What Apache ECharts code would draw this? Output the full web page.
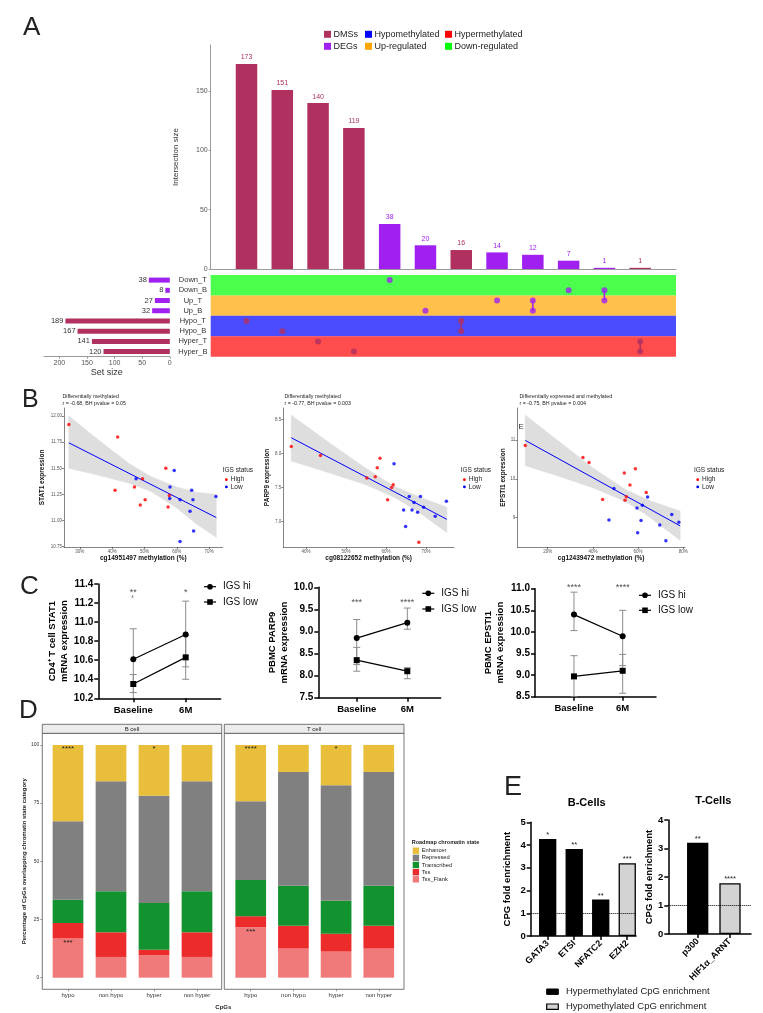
<!DOCTYPE html>
<html>
<head>
<meta charset="utf-8">
<title>Figure</title>
<script src="https://cdn.jsdelivr.net/npm/echarts@6/dist/echarts.min.js"></script>
<style>
html,body{margin:0;padding:0;background:#ffffff;}
#chart{width:763px;height:1013px;}
</style>
</head>
<body>
<div id="chart"></div>
<script>
// ================= DATA =================
// Panel A (UpSet)
const intersectionSets = [['Hypo_T'],['Hypo_B'],['Hyper_T'],['Hyper_B'],['Down_T'],['Up_B'],['Hypo_T','Hypo_B'],['Up_T'],['Up_T','Up_B'],['Down_B'],['Down_B','Up_T'],['Hyper_T','Hyper_B']];
const intersectionSizes = [173,151,140,119,38,20,16,14,12,7,1,1];
const intersectionKinds = ['DMS','DMS','DMS','DMS','DEG','DEG','DMS','DEG','DEG','DEG','DEG','DMS'];
const setNames = ['Down_T','Down_B','Up_T','Up_B','Hypo_T','Hypo_B','Hyper_T','Hyper_B'];
const setSizes = [38,8,27,32,189,167,141,120];
const setKinds = ['DEG','DEG','DEG','DEG','DMS','DMS','DMS','DMS'];
const upsetLegendRow1 = ['DMSs','Hypomethylated','Hypermethylated'];
const upsetLegendRow2 = ['DEGs','Up-regulated','Down-regulated'];
const intersectionTicks = [0,50,100,150];
const setSizeTicks = [0,50,100,150,200];

// Panel B (scatter, [methylation %, expression])
const stat1High = [[26.6,11.92],[41.7,11.80],[40.9,11.29],[46.9,11.32],[49.4,11.40],[48.7,11.15],[50.2,11.20],[56.6,11.50],[57.7,11.24],[57.3,11.13]];
const stat1Low = [[47.4,11.40],[59.2,11.48],[57.9,11.32],[57.8,11.21],[61.0,11.20],[64.6,11.29],[65.0,11.20],[64.1,11.09],[65.2,10.90],[61.0,10.80],[72.1,11.23]];
const stat1Fit = [[26.6,11.744],[72.2,11.029]];
const stat1Band = [[26.6,11.50,12.00],[35,11.44,11.79],[45,11.36,11.55],[52,11.28,11.42],[60,11.12,11.32],[66,10.97,11.27],[72.2,10.84,11.25]];
const parp9High = [[36.3,8.10],[43.6,7.97],[55.2,7.64],[57.3,7.66],[57.8,7.79],[58.5,7.93],[60.4,7.32],[61.4,7.50],[61.8,7.54],[68.2,6.70]];
const parp9Low = [[62.0,7.85],[65.8,7.37],[68.6,7.37],[67.0,7.28],[64.4,7.17],[66.5,7.17],[67.9,7.14],[69.4,7.21],[64.9,6.93],[72.3,7.08],[75.1,7.30]];
const parp9Fit = [[36.3,8.23],[75.2,7.035]];
const parp9Band = [[36.3,7.89,8.56],[45,7.73,8.19],[55,7.54,7.78],[62,7.36,7.52],[68,7.15,7.37],[75.2,6.84,7.21]];
const epsti1High = [[10.1,10.86],[35.6,10.55],[38.3,10.42],[44.3,9.47],[53.9,10.15],[58.8,10.26],[56.4,9.84],[54.8,9.54],[54.2,9.45],[63.6,9.65]];
const epsti1Low = [[49.3,9.75],[64.2,9.53],[61.9,9.32],[59.5,9.25],[47.1,8.94],[61.3,8.93],[59.8,8.61],[69.6,8.81],[74.9,9.08],[78.0,8.88],[72.3,8.41]];
const epsti1Fit = [[10.1,10.99],[78.6,8.79]];
const epsti1Band = [[10.1,10.34,11.64],[25,10.07,10.96],[40,9.77,10.28],[54.5,9.42,9.72],[65,9.02,9.44],[78.6,8.42,9.17]];
const stat1XTicks = [30,40,50,60,70];
const stat1YTicks = [10.75,11.00,11.25,11.50,11.75,12.00];
const parp9XTicks = [40,50,60,70];
const parp9YTicks = [7.0,7.5,8.0,8.5];
const epsti1XTicks = [20,40,60,80];
const epsti1YTicks = [9,10,11];

// Panel C (mean expression over time)
const timepoints = ['Baseline','6M'];
const stat1Hi = [10.61,10.87];
const stat1Lo = [10.35,10.63];
const stat1HiErr = [[10.26,10.93],[10.53,11.22]];
const stat1LoErr = [[10.10,10.45],[10.40,10.86]];
const stat1Sig = ['**','*'];
const parp9Hi = [8.85,9.20];
const parp9Lo = [8.35,8.10];
const parp9HiErr = [[8.25,9.27],[9.05,9.53]];
const parp9LoErr = [[8.10,8.64],[7.93,8.18]];
const parp9Sig = ['***','****'];
const epsti1Hi = [10.40,9.90];
const epsti1Lo = [8.97,9.10];
const epsti1HiErr = [[10.03,10.92],[9.22,10.50]];
const epsti1LoErr = [[8.50,9.45],[8.58,9.48]];
const epsti1Sig = ['****','****'];
const stat1CTicks = [10.2,10.4,10.6,10.8,11.0,11.2,11.4];
const parp9CTicks = [7.5,8.0,8.5,9.0,9.5,10.0];
const epsti1CTicks = [8.5,9.0,9.5,10.0,10.5,11.0];

// Panel D (chromatin state %, order: hypo, non hypo, hyper, non hyper)
const cpgGroups = ['hypo','non hypo','hyper','non hyper'];
const chromStates = ['Enhancer','Repressed','Transcribed','Tss','Tss_Flank'];
const bTssFlank = [16.9,8.9,9.7,8.9];
const bTss = [6.6,10.6,2.3,10.6];
const bTranscribed = [10.0,17.6,20.1,17.6];
const bRepressed = [33.7,47.3,46.1,47.3];
const bEnhancer = [32.8,15.6,21.8,15.6];
const tTssFlank = [21.6,12.5,11.2,12.5];
const tTss = [4.8,9.8,7.7,9.8];
const tTranscribed = [15.6,17.2,14.2,17.2];
const tRepressed = [33.8,48.9,49.6,48.9];
const tEnhancer = [24.2,11.6,17.3,11.6];
const bTopSig = ['****','','*',''];
const bFlankSig = ['***','','',''];
const tTopSig = ['****','','*',''];
const tFlankSig = ['***','','',''];
const pctTicks = [0,25,50,75,100];

// Panel E (fold enrichment)
const eBNames = ['GATA3','ETSI','NFATC2','EZH2'];
const eBValues = [4.27,3.83,1.60,3.20];
const eBKinds = ['hyper','hyper','hyper','hypo'];
const eBSig = ['*','**','**','***'];
const eTNames = ['p300','HIF1α_ARNT'];
const eTValues = [3.20,1.78];
const eTKinds = ['hyper','hypo'];
const eTSig = ['**','****'];
const eLegend = ['Hypermethylated CpG enrichment','Hypomethylated CpG enrichment'];

// ================= STYLE / BUILD =================
const FONT = '"Liberation Sans", Arial, Helvetica, sans-serif';
const KC = {DMS:'#B03060', DEG:'#A020F0'};
const bandColor = {Down:'#00FF00', Up:'#FFA500', Hypo:'#0000FF', Hyper:'#FF0000'};
const legendColor = {'DMSs':'#B03060','DEGs':'#A020F0','Hypomethylated':'#0000FF','Hypermethylated':'#FF0000','Up-regulated':'#FFA500','Down-regulated':'#00FF00'};
const chromColor = {Enhancer:'#E8BE3A', Repressed:'#808080', Transcribed:'#139230', Tss:'#EC2B2B', Tss_Flank:'#F07A7A'};
const eFill = {hyper:'#000000', hypo:'#D3D3D3'};

const grid=[], xAxis=[], yAxis=[], series=[], graphic=[];
function addGrid(box){ grid.push(Object.assign({outerBoundsMode:'none', containLabel:false}, box)); return grid.length-1; }
function txt(text, x, y, o){
  o = o || {};
  graphic.push({type:'text', x:x, y:y, rotation:o.rot||0, silent:true, z:100,
    style:{text:text, fill:o.color||'#222', fontSize:o.size||8, fontWeight:o.weight||'normal', fontFamily:o.family||FONT,
      align:o.align||'left', verticalAlign:o.valign||'middle', textAlign:o.align||'left', textVerticalAlign:o.valign||'middle'}});
}
function rect(x,y,w,h,fill,stroke,lw){ graphic.push({type:'rect', silent:true, z:100, shape:{x:x,y:y,width:w,height:h}, style:{fill:fill, stroke:stroke||null, lineWidth:lw||0}}); }
function gline(x1,y1,x2,y2,stroke,lw){ graphic.push({type:'line', silent:true, z:100, shape:{x1:x1,y1:y1,x2:x2,y2:y2}, style:{stroke:stroke, lineWidth:lw}}); }
function gcircle(cx,cy,r,fill){ graphic.push({type:'circle', silent:true, z:101, shape:{cx:cx,cy:cy,r:r}, style:{fill:fill}}); }
function aline(color, width, show){ return {show: show!==false, onZero:false, lineStyle:{color:color, width:width}}; }

// Panel letters
txt('A', 23, 28, {size:26});
txt('B', 22, 400, {size:25});
txt('C', 20, 587, {size:26});
txt('D', 19, 711, {size:26});
txt('E', 504, 788, {size:27});

// ---------- Panel A ----------
const nInter = intersectionSizes.length;
const gA = addGrid({left:210.7, top:45, width:465.3, height:224});
xAxis.push({gridIndex:gA, type:'value', min:0, max:nInter+1, axisLine:aline('#9a9a9a',1), axisTick:{show:false}, axisLabel:{show:false}, splitLine:{show:false}});
yAxis.push({gridIndex:gA, type:'value', min:0, max:189, axisLine:aline('#9a9a9a',1),
  axisTick:{show:true,length:2,customValues:intersectionTicks,lineStyle:{color:'#9a9a9a'}},
  axisLabel:{customValues:intersectionTicks, fontSize:7, color:'#555', margin:3, fontFamily:FONT}, splitLine:{show:false},
  name:'Intersection size', nameLocation:'middle', nameRotate:90, nameGap:31, nameTextStyle:{fontSize:8, color:'#333', fontFamily:FONT}});
series.push({type:'bar', xAxisIndex:gA, yAxisIndex:gA, barWidth:21.5,
  data:intersectionSizes.map((v,i)=>({value:[i+1,v], itemStyle:{color:KC[intersectionKinds[i]]}, label:{color:KC[intersectionKinds[i]]}})),
  label:{show:true, position:'top', distance:3, fontSize:7, fontFamily:FONT}});

const gM = addGrid({left:210.7, top:275, width:465.3, height:81.7});
xAxis.push({gridIndex:gM, type:'value', min:0, max:nInter+1, show:false});
yAxis.push({gridIndex:gM, type:'value', min:0, max:setNames.length, inverse:true, show:false});
const bands=[];
setNames.forEach((s,i)=>{const g=s.split('_')[0]; const last=bands[bands.length-1]; if(last && last.g===g) last.end=i+1; else bands.push({g:g,start:i,end:i+1});});
series.push({type:'custom', xAxisIndex:gM, yAxisIndex:gM, z:1, silent:true, data:bands.map(b=>[b.start+0.5,b.end]),
  renderItem:(params,api)=>{const cs=params.coordSys; const b=bands[params.dataIndex];
    const y0=api.coord([0,b.start])[1], y1=api.coord([0,b.end])[1];
    return {type:'rect', shape:{x:cs.x,y:Math.min(y0,y1),width:cs.width,height:Math.abs(y1-y0)}, style:{fill:bandColor[b.g], opacity:0.7}};}});
const dotData=[];
intersectionSets.forEach((sets,i)=>sets.forEach(s=>dotData.push({value:[i+1, setNames.indexOf(s)+0.5], itemStyle:{color:KC[intersectionKinds[i]]}})));
series.push({type:'scatter', xAxisIndex:gM, yAxisIndex:gM, z:4, symbolSize:6, data:dotData});
intersectionSets.forEach((sets,i)=>{ if(sets.length>1) series.push({type:'line', xAxisIndex:gM, yAxisIndex:gM, z:3, symbol:'none',
  lineStyle:{color:KC[intersectionKinds[i]], width:1.5}, data:sets.map(s=>[i+1, setNames.indexOf(s)+0.5])}); });

const gS = addGrid({left:43.9, top:275, width:125.9, height:81.7});
xAxis.push({gridIndex:gS, type:'value', min:0, max:228, inverse:true, axisLine:aline('#9a9a9a',1),
  axisTick:{show:true,length:2,customValues:setSizeTicks,lineStyle:{color:'#9a9a9a'}},
  axisLabel:{customValues:setSizeTicks, fontSize:7, color:'#555', margin:3, fontFamily:FONT}, splitLine:{show:false},
  name:'Set size', nameLocation:'middle', nameGap:10, nameTextStyle:{fontSize:9, color:'#333', fontFamily:FONT}});
yAxis.push({gridIndex:gS, type:'category', data:setNames, inverse:true, position:'right', axisLine:{show:false, onZero:false}, axisTick:{show:false},
  axisLabel:{interval:0, fontSize:7.5, color:'#333', align:'center', margin:23, fontFamily:FONT}});
series.push({type:'bar', xAxisIndex:gS, yAxisIndex:gS, barWidth:5,
  data:setSizes.map((v,i)=>({value:v, itemStyle:{color:KC[setKinds[i]]}})),
  label:{show:true, position:'left', distance:2, fontSize:7.5, color:'#333', fontFamily:FONT}});

// UpSet legend
const legXs = [324, 365, 445];
[upsetLegendRow1, upsetLegendRow2].forEach((row,r)=>{
  const y = r===0 ? 34.3 : 46.3;
  row.forEach((name,k)=>{ rect(legXs[k], y-3.5, 7, 7, legendColor[name]); txt(name, legXs[k]+9.5, y, {size:9, color:'#222'}); });
});

// ---------- Panel B ----------
function scatterPanel(p){
  const gi = addGrid({left:p.left, top:408, width:p.width, height:139});
  xAxis.push({gridIndex:gi, type:'value', min:p.xRange[0], max:p.xRange[1], axisLine:aline('#333',0.6), splitLine:{show:false},
    axisTick:{show:true, length:2, customValues:p.xTicks, lineStyle:{color:'#333', width:0.6}},
    axisLabel:{customValues:p.xTicks, formatter:v=>v+'%', fontSize:4.5, color:'#555', margin:2, fontFamily:FONT},
    name:p.xName, nameLocation:'middle', nameGap:8, nameTextStyle:{fontSize:6.5, fontWeight:'bold', color:'#111', fontFamily:FONT}});
  yAxis.push({gridIndex:gi, type:'value', min:p.yRange[0], max:p.yRange[1], axisLine:aline('#333',0.6), splitLine:{show:false},
    axisTick:{show:true, length:2, customValues:p.yTicks, lineStyle:{color:'#333', width:0.6}},
    axisLabel:{customValues:p.yTicks, formatter:p.yFmt, fontSize:4.5, color:'#555', margin:2, fontFamily:FONT},
    name:p.yName, nameLocation:'middle', nameRotate:90, nameGap:p.yGap, nameTextStyle:{fontSize:6.5, fontWeight:'bold', color:'#111', fontFamily:FONT}});
  const band = p.band;
  series.push({type:'custom', xAxisIndex:gi, yAxisIndex:gi, z:1, silent:true, data:band.slice(0,-1), encode:{x:0,y:1},
    renderItem:(params,api)=>{const a=band[params.dataIndex], b=band[params.dataIndex+1];
      const pts=[api.coord([a[0],a[1]]),api.coord([a[0],a[2]]),api.coord([b[0],b[2]]),api.coord([b[0],b[1]])];
      return {type:'polygon', shape:{points:pts}, style:{fill:'#dedede', stroke:'#dedede', lineWidth:0.6}};}});
  series.push({type:'line', xAxisIndex:gi, yAxisIndex:gi, z:2, symbol:'none', data:p.fit, lineStyle:{color:'#0000FF', width:1}});
  series.push({type:'scatter', xAxisIndex:gi, yAxisIndex:gi, z:3, symbolSize:3.5, itemStyle:{color:'#FF0000'}, data:p.high});
  series.push({type:'scatter', xAxisIndex:gi, yAxisIndex:gi, z:3, symbolSize:3.5, itemStyle:{color:'#0000FF'}, data:p.low});
  txt(p.title1, p.tx, 396.7, {size:5.3, color:'#222'});
  txt(p.title2, p.tx, 404, {size:5.3, color:'#222'});
  txt('IGS status', p.lx, 470, {size:6.5, color:'#222'});
  gcircle(p.lx+3.7, 479.7, 1.4, '#FF0000'); txt('High', p.lx+8, 479.7, {size:6.5, color:'#222'});
  gcircle(p.lx+3.7, 486.9, 1.4, '#0000FF'); txt('Low', p.lx+8, 486.9, {size:6.5, color:'#222'});
}
scatterPanel({left:64, width:158.7, xRange:[25.1,74.2], yRange:[10.747,12.077], xTicks:stat1XTicks, yTicks:stat1YTicks, yFmt:v=>v.toFixed(2),
  xName:'cg14951497 methylation (%)', yName:'STAT1 expression', yGap:18.5, band:stat1Band, fit:stat1Fit, high:stat1High, low:stat1Low,
  title1:'Differentially methylated', title2:'r = -0.68, BH pvalue = 0.05', tx:62.4, lx:222.7});
scatterPanel({left:283.3, width:170.7, xRange:[34.3,77.0], yRange:[6.629,8.666], xTicks:parp9XTicks, yTicks:parp9YTicks, yFmt:v=>v.toFixed(1),
  xName:'cg08122652 methylation (%)', yName:'PARP9 expression', yGap:10.5, band:parp9Band, fit:parp9Fit, high:parp9High, low:parp9Low,
  title1:'Differentially methylated', title2:'r = -0.77, BH pvalue = 0.003', tx:284.4, lx:460.7});
scatterPanel({left:517.3, width:167.7, xRange:[6.55,80.75], yRange:[8.246,11.824], xTicks:epsti1XTicks, yTicks:epsti1YTicks, yFmt:v=>String(v),
  xName:'cg12439472 methylation (%)', yName:'EPSTI1 expression', yGap:6.8, band:epsti1Band, fit:epsti1Fit, high:epsti1High, low:epsti1Low,
  title1:'Differentially expressed and methylated', title2:'r = -0.75, BH pvalue = 0.004', tx:519.5, lx:694});
txt('E', 518.5, 426.5, {size:8, color:'#333'});

// ---------- Panel C ----------
function errRender(params, api){
  const x=api.value(0), lo=api.value(1), hi=api.value(2);
  const a=api.coord([x,hi]), b=api.coord([x,lo]); const w=3.5;
  const st={stroke:'#8c8c8c', lineWidth:1};
  return {type:'group', children:[
    {type:'line', shape:{x1:a[0],y1:a[1],x2:b[0],y2:b[1]}, style:st},
    {type:'line', shape:{x1:a[0]-w,y1:a[1],x2:a[0]+w,y2:a[1]}, style:st},
    {type:'line', shape:{x1:b[0]-w,y1:b[1],x2:b[0]+w,y2:b[1]}, style:st}]};
}
function prismPanel(p){
  const gi = addGrid({left:p.left, top:p.top, width:p.width, height:p.height});
  xAxis.push({gridIndex:gi, type:'value', min:p.xRange[0], max:p.xRange[1], axisLine:aline('#000',1.5), splitLine:{show:false},
    axisTick:{show:true, length:4, customValues:[0,1], lineStyle:{color:'#000', width:1.5}},
    axisLabel:{customValues:[0,1], formatter:v=>timepoints[v], fontSize:9.5, fontWeight:'bold', color:'#000', margin:7, fontFamily:FONT}});
  yAxis.push({gridIndex:gi, type:'value', min:p.yRange[0], max:p.yRange[1], axisLine:aline('#000',1.5), splitLine:{show:false},
    axisTick:{show:true, length:4, customValues:p.yTicks, lineStyle:{color:'#000', width:1.5}},
    axisLabel:{customValues:p.yTicks, formatter:v=>v.toFixed(1), fontSize:10, fontWeight:'bold', color:'#000', margin:5, fontFamily:FONT},
    name:p.yName, nameLocation:'middle', nameRotate:90, nameGap:p.yGap,
    nameTextStyle:{fontSize:9.5, fontWeight:'bold', color:'#000', fontFamily:FONT, lineHeight:12}});
  [p.hiErr, p.loErr].forEach(err=>series.push({type:'custom', xAxisIndex:gi, yAxisIndex:gi, z:1, silent:true, clip:true,
    data:err.map((e,i)=>[i,e[0],e[1]]), encode:{x:0,y:[1,2]}, renderItem:errRender}));
  series.push({type:'line', xAxisIndex:gi, yAxisIndex:gi, z:3, symbol:'circle', symbolSize:6, data:p.hi.map((v,i)=>[i,v]),
    itemStyle:{color:'#000'}, lineStyle:{color:'#000', width:1.2}});
  series.push({type:'line', xAxisIndex:gi, yAxisIndex:gi, z:3, symbol:'rect', symbolSize:6, data:p.lo.map((v,i)=>[i,v]),
    itemStyle:{color:'#000'}, lineStyle:{color:'#000', width:1.2}});
  series.push({type:'scatter', xAxisIndex:gi, yAxisIndex:gi, z:4, symbolSize:0, silent:true, clip:false,
    data:p.sig.map((s,i)=>({value:[i,p.yRange[1]], label:{formatter:s}})),
    label:{show:true, position:'inside', offset:[0,p.sigDy], fontSize:9, color:'#222', fontFamily:FONT}});
  // legend
  gline(p.legX-6, p.legY, p.legX+6, p.legY, '#000', 1.2); gcircle(p.legX, p.legY, 2.8, '#000');
  txt('IGS hi', p.legX+13, p.legY, {size:10, color:'#111'});
  gline(p.legX-6, p.legY+p.legDy, p.legX+6, p.legY+p.legDy, '#000', 1.2); rect(p.legX-2.8, p.legY+p.legDy-2.8, 5.6, 5.6, '#000');
  txt('IGS low', p.legX+13, p.legY+p.legDy, {size:10, color:'#111'});
}
prismPanel({left:98.3, top:584, width:122.4, height:114.3, xRange:[-0.668,1.668], yRange:[10.2,11.4], yTicks:stat1CTicks,
  yName:'CD4\u207A T cell STAT1\nmRNA expression', yGap:27, hi:stat1Hi, lo:stat1Lo, hiErr:stat1HiErr, loErr:stat1LoErr,
  sig:stat1Sig, sigDy:8.5, legX:210, legY:586.7, legDy:15.3});
txt('\u03B5', 131.5, 597, {size:5, color:'#555'});
prismPanel({left:318.3, top:587.3, width:122.4, height:110.4, xRange:[-0.759,1.66], yRange:[7.5,10.0], yTicks:parp9CTicks,
  yName:'PBMC PARP9\nmRNA expression', yGap:21, hi:parp9Hi, lo:parp9Lo, hiErr:parp9HiErr, loErr:parp9LoErr,
  sig:parp9Sig, sigDy:15.5, legX:428.3, legY:593.3, legDy:15.7});
prismPanel({left:535, top:588.7, width:121, height:108, xRange:[-0.80,1.684], yRange:[8.5,11.0], yTicks:epsti1CTicks,
  yName:'PBMC EPSTI1\nmRNA expression', yGap:19, hi:epsti1Hi, lo:epsti1Lo, hiErr:epsti1HiErr, loErr:epsti1LoErr,
  sig:epsti1Sig, sigDy:-1, legX:645, legY:595.3, legDy:15});

// ---------- Panel D ----------
function chromPanel(p){
  // p.left/p.width = facet frame; p.axLeft/p.axWidth = category band region
  const gi = addGrid({left:p.axLeft, top:733.3, width:p.axWidth, height:256});
  xAxis.push({gridIndex:gi, type:'category', data:cpgGroups, boundaryGap:true, axisLine:{show:false, onZero:false}, splitLine:{show:false},
    axisTick:{show:true, alignWithLabel:true, interval:0, length:2, lineStyle:{color:'#555', width:0.6}},
    axisLabel:{interval:0, fontSize:6, color:'#333', margin:3, fontFamily:FONT}});
  yAxis.push({gridIndex:gi, type:'value', min:-5, max:105, axisLine:{show:false, onZero:false}, splitLine:{show:false},
    axisTick:{show:false}, axisLabel:{show:false}});
  const stacks = [['Tss_Flank',p.flank,p.flankSig],['Tss',p.tss,null],['Transcribed',p.tr,null],['Repressed',p.rep,null],['Enhancer',p.enh,p.topSig]];
  stacks.forEach(st=>{
    series.push({type:'bar', name:st[0], xAxisIndex:gi, yAxisIndex:gi, stack:'s'+gi, barWidth:30.7, itemStyle:{color:chromColor[st[0]]},
      data:st[1].map((v,i)=>({value:v, label:{show:!!(st[2] && st[2][i]), formatter:st[2] ? st[2][i] : ''}})),
      label:{show:false, position:'insideTop', distance:0, fontSize:8, color:'#222', fontFamily:FONT}});
  });
  // facet frame grid for the y scale (ticks and title on the left panel only)
  const gf = addGrid({left:p.left, top:733.3, width:p.width, height:256, show:true, borderColor:'#555', borderWidth:0.8, backgroundColor:'rgba(0,0,0,0)'});
  xAxis.push({gridIndex:gf, type:'value', min:0, max:1, show:false});
  yAxis.push({gridIndex:gf, type:'value', min:-5, max:105, axisLine:{show:false, onZero:false}, splitLine:{show:false},
    axisTick:{show:p.showY, length:2, customValues:pctTicks, lineStyle:{color:'#555', width:0.6}},
    axisLabel:{show:p.showY, customValues:pctTicks, fontSize:5, color:'#333', margin:3, fontFamily:FONT},
    name:p.showY ? 'Percentage of CpGs overlapping chromatin state category' : '', nameLocation:'middle', nameRotate:90, nameGap:14,
    nameTextStyle:{fontSize:6, fontWeight:'bold', color:'#222', fontFamily:FONT}});
  rect(p.left, 724.3, p.width, 9, '#ececec', '#555', 0.8);
  txt(p.cell, p.left+p.width/2, 728.9, {size:6, color:'#222', align:'center'});
}
chromPanel({left:42.3, width:179.4, axLeft:46.5, axWidth:172, showY:true, cell:'B cell', flank:bTssFlank, tss:bTss, tr:bTranscribed, rep:bRepressed, enh:bEnhancer, topSig:bTopSig, flankSig:bFlankSig});
chromPanel({left:224.3, width:179.7, axLeft:229.4, axWidth:170.7, showY:false, cell:'T cell', flank:tTssFlank, tss:tTss, tr:tTranscribed, rep:tRepressed, enh:tEnhancer, topSig:tTopSig, flankSig:tFlankSig});
txt('CpGs', 223.3, 1007.3, {size:6, weight:'bold', color:'#222', align:'center'});
txt('Roadmap chromatin state', 411.7, 842.3, {size:5.5, weight:'bold', color:'#222'});
chromStates.forEach((s,k)=>{ const y = 850.7 + k*7.15; rect(412.7, y-3.2, 6.4, 6.4, chromColor[s]); txt(s, 421.7, y, {size:5.8, color:'#222'}); });

// ---------- Panel E ----------
function enrichPanel(p){
  const gi = addGrid({left:p.left, top:p.top, width:p.width, height:p.height});
  const idx = p.names.map((_,i)=>i);
  xAxis.push({gridIndex:gi, type:'value', min:p.xRange[0], max:p.xRange[1], axisLine:aline('#000',1.5), splitLine:{show:false},
    axisTick:{show:true, length:4, customValues:idx, lineStyle:{color:'#000', width:1.5}},
    axisLabel:{customValues:idx, formatter:v=>p.names[v], rotate:45, fontSize:9, fontWeight:'bold', color:'#000', margin:6, fontFamily:FONT}});
  yAxis.push({gridIndex:gi, type:'value', min:0, max:p.yMax, interval:1, axisLine:aline('#000',1.5), splitLine:{show:false},
    axisTick:{show:true, length:4, lineStyle:{color:'#000', width:1.5}},
    axisLabel:{fontSize:9.5, fontWeight:'bold', color:'#000', margin:5, fontFamily:FONT},
    name:'CPG fold enrichment', nameLocation:'middle', nameRotate:90, nameGap:p.yGap,
    nameTextStyle:{fontSize:9.5, fontWeight:'bold', color:'#000', fontFamily:FONT}});
  series.push({type:'bar', xAxisIndex:gi, yAxisIndex:gi, barWidth:p.barWidth,
    itemStyle:{borderColor:'#000', borderWidth:1.3},
    data:p.values.map((v,i)=>({value:[i,v], itemStyle:{color:eFill[p.kinds[i]]}, label:{formatter:p.sig[i]}})),
    label:{show:true, position:'top', distance:0, fontSize:7.5, color:'#222', fontFamily:FONT},
    markLine:{silent:true, symbol:'none', label:{show:false}, lineStyle:{type:'dotted', color:'#000', width:1}, data:[{yAxis:1}]}});
  txt(p.title, p.titleX, p.titleY, {size:11, weight:'bold', color:'#000', align:'center'});
}
enrichPanel({left:530.7, top:822.3, width:105.3, height:113.7, xRange:[-0.64,3.33], yMax:5, names:eBNames, values:eBValues, kinds:eBKinds, sig:eBSig,
  barWidth:17.3, yGap:18, title:'B-Cells', titleX:586.7, titleY:803.3});
enrichPanel({left:668.3, top:820, width:82.7, height:114, xRange:[-0.91,1.65], yMax:4, names:eTNames, values:eTValues, kinds:eTKinds, sig:eTSig,
  barWidth:21.3, yGap:8, title:'T-Cells', titleX:713.3, titleY:800.7});
rect(546.7, 989, 11.6, 5.4, eFill.hyper, '#000', 1);
txt(eLegend[0], 566, 991.7, {size:9.5, color:'#222'});
rect(546.7, 1004, 11.6, 5.4, eFill.hypo, '#000', 1.2);
txt(eLegend[1], 566, 1006.7, {size:9.5, color:'#222'});

// ================= RENDER =================
const chart = echarts.init(document.getElementById('chart'), null, {renderer:'canvas', width:763, height:1013});
chart.setOption({
  animation:false,
  backgroundColor:'#ffffff',
  textStyle:{fontFamily:FONT},
  grid:grid, xAxis:xAxis, yAxis:yAxis, series:series, graphic:graphic
});
</script>
</body>
</html>
